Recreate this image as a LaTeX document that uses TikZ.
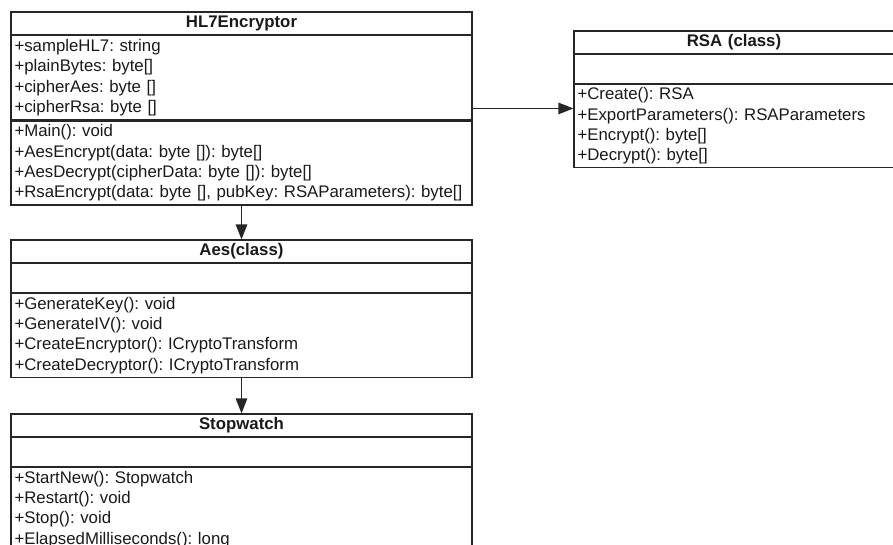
\documentclass[tikz,border=0pt]{standalone}
\usepackage{fontspec}
\setmainfont{Liberation Sans}
\usepackage{tikz}
\usetikzlibrary{positioning,fit,arrows.meta}
\definecolor{umlline}{HTML}{262626}
\newcommand{\umlfont}{\fontsize{16.8pt}{20.4pt}\selectfont\frenchspacing}

\begin{document}
\begin{tikzpicture}
  [
    x=1pt, y=-1pt,
    umlbox/.style={draw=umlline, line width=1.2pt, inner xsep=3.5pt, inner ysep=0pt, text width=454pt, font=\umlfont, text=black!90},
    umltitle/.style={umlbox, minimum height=22.5pt, align=center, font=\umlfont\bfseries},
    umlsec/.style={umlbox, minimum height=84pt, align=left},
    umlempty/.style={umlbox, minimum height=28.5pt},
    rsawidth/.style={text width=313pt},
    node distance=0pt,
    flow/.style={-{Triangle[length=15pt,width=11.5pt]}, line width=1.2pt, draw=umlline},
  ]
  \clip (0,0) rectangle (893,544);

  % HL7Encryptor
  \node (hl7) [umltitle] at (241.5,23.25) {HL7Encryptor};
  \node (hl7attr) [umlsec, below=of hl7] {+sampleHL7: string\\+plainBytes: byte[]\\+cipherAes: byte []\\+cipherRsa: byte []};
  \node (hl7meth) [umlsec, below=of hl7attr] {+Main(): void\\+AesEncrypt(data: byte []): byte[]\\+AesDecrypt(cipherData: byte []): byte[]\\+RsaEncrypt(data: byte [], pubKey: RSAParameters): byte[]};
  \node (hl7class) [fit=(hl7) (hl7meth), inner sep=0pt] {};

  % RSA
  \node (rsa) [umltitle, rsawidth] at (734,42.25) {RSA (class)};
  \node (rsaemp) [umlempty, rsawidth, below=of rsa] {};
  \node (rsameth) [umlsec, rsawidth, minimum height=83pt, below=of rsaemp] {+Create(): RSA\\+ExportParameters(): RSAParameters\\+Encrypt(): byte[]\\+Decrypt(): byte[]};

  % Aes
  \node (aes) [umltitle] at (241.5,251.25) {Aes(class)};
  \node (aesemp) [umlempty, below=of aes] {};
  \node (aesmeth) [umlsec, below=of aesemp] {+GenerateKey(): void\\+GenerateIV(): void\\+CreateEncryptor(): ICryptoTransform\\+CreateDecryptor(): ICryptoTransform};

  % Stopwatch
  \node (sw) [umltitle] at (241.5,425.25) {Stopwatch};
  \node (swemp) [umlempty, below=of sw] {};
  \node (swmeth) [umlsec, below=of swemp] {+StartNew(): Stopwatch\\+Restart(): void\\+Stop(): void\\+ElapsedMilliseconds(): long};

  \draw [flow] (hl7meth) -- (aes);
  \draw [flow] (aesmeth) -- (sw);
  \draw [flow] (hl7class.east) -- (hl7class.east -| rsaemp.west);
\end{tikzpicture}
\end{document}
